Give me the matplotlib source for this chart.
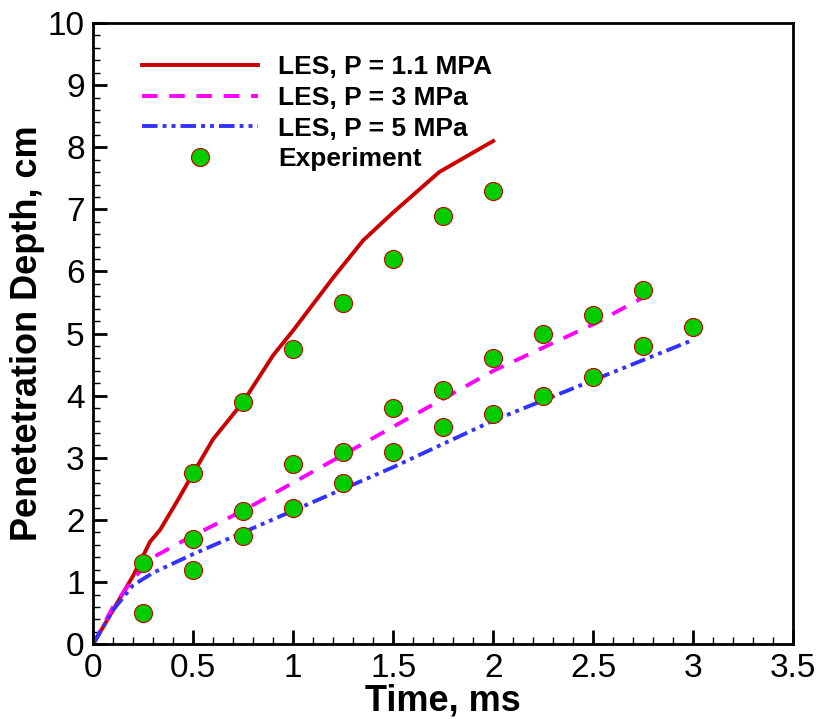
import matplotlib.pyplot as plt
from matplotlib.ticker import MultipleLocator

plt.rcParams['font.family'] = ['Liberation Sans', 'DejaVu Sans']

# LES curves
t_11 = [0, 0.1, 0.2, 0.285, 0.335, 0.42, 0.5, 0.6, 0.75, 0.9, 1.0, 1.2, 1.35, 1.5, 1.73, 2.0]
d_11 = [0, 0.55, 1.1, 1.65, 1.84, 2.3, 2.75, 3.3, 3.9, 4.65, 5.05, 5.9, 6.5, 6.95, 7.6, 8.1]

t_3 = [0, 0.1, 0.2, 0.3, 0.5, 0.75, 1.0, 1.5, 2.0, 2.5, 2.83]
d_3 = [0, 0.6, 1.05, 1.4, 1.75, 2.15, 2.6, 3.5, 4.4, 5.15, 5.72]

t_5 = [0, 0.1, 0.2, 0.3, 0.5, 0.75, 1.0, 1.5, 2.0, 2.5, 3.0]
d_5 = [0, 0.55, 0.95, 1.15, 1.45, 1.8, 2.15, 2.85, 3.6, 4.25, 4.9]

# Experiment
exp_t = [0.25, 0.25, 0.5, 0.5, 0.5, 0.75, 0.75, 0.75, 1.0, 1.0, 1.0,
         1.25, 1.25, 1.25, 1.5, 1.5, 1.5, 1.75, 1.75, 1.75, 2.0, 2.0, 2.0,
         2.25, 2.25, 2.5, 2.5, 2.75, 2.75, 3.0]
exp_d = [1.3, 0.5, 2.75, 1.7, 1.2, 3.9, 2.15, 1.75, 4.75, 2.9, 2.2,
         5.5, 3.1, 2.6, 6.2, 3.8, 3.1, 6.9, 4.1, 3.5, 7.3, 4.6, 3.7,
         5.0, 4.0, 5.3, 4.3, 5.7, 4.8, 5.1]

fig = plt.figure(figsize=(8.19, 7.19), dpi=100)
ax = fig.add_axes([0.1136, 0.104, 0.855, 0.864])

ax.plot(t_11, d_11, color='#cc0000', lw=2.8, label='LES, P = 1.1 MPA')
ax.plot(t_3, d_3, color='#ff00ff', lw=2.8, dashes=(4, 3), label='LES, P = 3 MPa')
ax.plot(t_5, d_5, color='#3333ff', lw=2.8, dashes=(4, 1.3, 1, 1.3, 1, 1.3),
        label='LES, P = 5 MPa')
ax.plot(exp_t, exp_d, 'o', ms=13, mfc='#00cc00', mec='#cc0000', mew=0.8,
        ls='none', label='Experiment', zorder=5)

ax.set_xlim(0, 3.5)
ax.set_ylim(0, 10)
ax.xaxis.set_major_locator(MultipleLocator(0.5))
ax.xaxis.set_minor_locator(MultipleLocator(0.1))
ax.yaxis.set_major_locator(MultipleLocator(1))
ax.yaxis.set_minor_locator(MultipleLocator(0.2))
ax.xaxis.set_major_formatter(plt.FuncFormatter(lambda v, p: f'{v:g}'))
ax.tick_params(which='major', direction='in', length=10, width=2, labelsize=24, pad=6)
ax.tick_params(which='minor', direction='in', length=5, width=1)
for s in ax.spines.values():
    s.set_linewidth(2)

ax.set_xlabel('Time, ms', fontsize=26, fontweight='bold', labelpad=0)
ax.set_ylabel('Penetetration Depth, cm', fontsize=26, fontweight='bold', labelpad=2)

ax.legend(loc='upper left', bbox_to_anchor=(0.07, 0.948), frameon=False,
          prop={'size': 19, 'weight': 'bold'}, handlelength=4.4,
          handletextpad=0.75, labelspacing=0.25, borderaxespad=0,
          borderpad=0)

fig.savefig('out.png', dpi=100)
